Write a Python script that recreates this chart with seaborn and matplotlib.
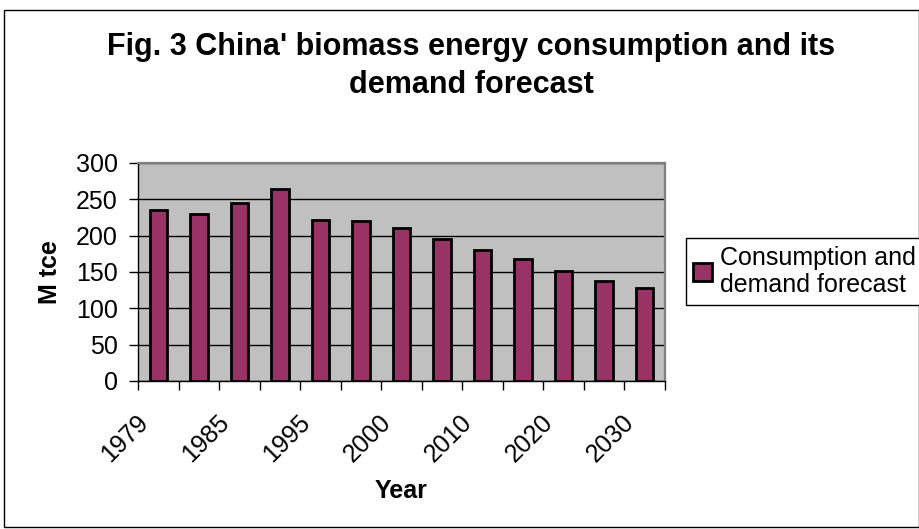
import matplotlib
matplotlib.use("Agg")
import matplotlib.pyplot as plt
import matplotlib.transforms as mtrans
import seaborn as sns
import pandas as pd
from matplotlib.patches import Rectangle

# categories (hidden every-other labels are guesses)
years = ["1979", "1982", "1985", "1990", "1995", "1998", "2000",
         "2005", "2010", "2015", "2020", "2025", "2030"]
consumption = [235, 230, 245, 264, 221, 220, 210, 195, 180, 168, 151, 138, 128]
shown_labels = ["1979", "", "1985", "", "1995", "", "2000",
                "", "2010", "", "2020", "", "2030"]

df = pd.DataFrame({"Year": years, "M tce": consumption})

sns.set_style("white")
plt.rcParams["font.family"] = ["Liberation Sans", "DejaVu Sans"]
plt.rcParams["text.color"] = "black"
plt.rcParams["axes.labelcolor"] = "black"
plt.rcParams["xtick.color"] = "black"
plt.rcParams["ytick.color"] = "black"

fig = plt.figure(figsize=(9.2, 5.29), dpi=100)
ax = fig.add_axes([0.15, 0.2798, 0.5728, 0.4121])

sns.barplot(data=df, x="Year", y="M tce", color="#993366", saturation=1,
            width=0.43, edgecolor="black", linewidth=2,
            label="Consumption and\ndemand forecast", ax=ax, zorder=3)

ax.set_facecolor("#C0C0C0")
ax.set_ylim(0, 300)
ax.set_xlim(-0.5, len(years) - 0.5)
ax.set_yticks(range(0, 301, 50))
ax.yaxis.grid(True, color="black", linewidth=1)
ax.set_axisbelow(True)
ax.tick_params(axis="y", direction="out", length=6.5, width=1, labelsize=18,
               left=True, pad=8)

ax.set_xticks(range(len(years)))
ax.set_xticklabels(shown_labels, rotation=45, ha="right", va="center",
                   rotation_mode="anchor", fontsize=18)
ax.tick_params(axis="x", which="major", length=0, pad=27)
shift = mtrans.ScaledTranslation(-14 / 100, 0, fig.dpi_scale_trans)
for lab in ax.get_xticklabels():
    lab.set_transform(lab.get_transform() + shift)
ax.set_xticks([i - 0.5 for i in range(len(years) + 1)], minor=True)
ax.tick_params(axis="x", which="minor", direction="out", length=6.5, width=1, bottom=True)

for side in ["left", "bottom"]:
    ax.spines[side].set_color("black")
    ax.spines[side].set_linewidth(1)
for side in ["top", "right"]:
    ax.spines[side].set_visible(True)
    ax.spines[side].set_color("#808080")
    ax.spines[side].set_linewidth(1.6)

ax.set_ylabel("M tce", fontsize=18, fontweight="bold")
ax.yaxis.set_label_coords(-0.144, 0.5)
ax.set_xlabel("Year", fontsize=18, fontweight="bold")
ax.xaxis.set_label_coords(0.5, -0.45)

ax.get_legend().remove()
handles, labels = ax.get_legend_handles_labels()
fig.legend(handles, labels, loc="upper left", bbox_to_anchor=(686 / 920, 1 - 238 / 529),
           fontsize=18, frameon=True, fancybox=False, edgecolor="black",
           borderpad=0.3, borderaxespad=0, handlelength=0.75, handleheight=0.75,
           handletextpad=0.3, framealpha=1)

fig.suptitle("Fig. 3 China' biomass energy consumption and its\ndemand forecast",
             x=0.512, y=0.94, fontsize=22, fontweight="bold", linespacing=1.38)

fig.patches.append(Rectangle((4 / 920, 2 / 529), 915 / 920, 517 / 529,
                             transform=fig.transFigure, fill=False,
                             edgecolor="black", linewidth=1))

fig.savefig("out.png", dpi=100)
